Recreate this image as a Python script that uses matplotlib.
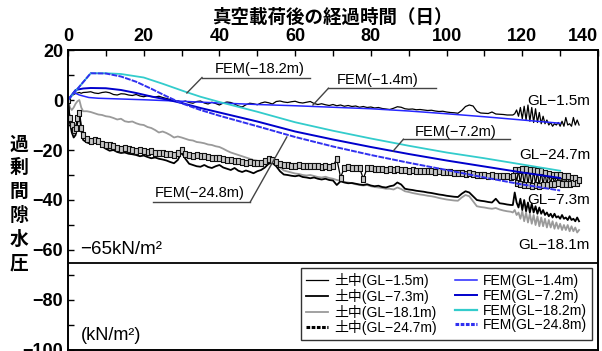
import matplotlib

matplotlib.use("Agg")
import matplotlib.pyplot as plt
import numpy as np
from matplotlib.lines import Line2D

plt.rcParams["font.family"] = ["Liberation Sans", "Noto Sans CJK JP"]
plt.rcParams["axes.unicode_minus"] = True

# ---- measured excess pore pressure (kN/m2) ---------------------------------
# day grid: fine start, daily middle, half-daily tail
days_obs = np.concatenate([
    [0, 0.5, 1, 1.5, 2, 2.5, 3, 3.5, 4],
    np.arange(5, 118),
    np.arange(117.5, 135.25, 0.5),
])

gl_1_5 = [
    0.0, 1.0, 1.8, 2.2, 2.6, 2.8, 3.0, 2.7, 3.0,
    3.1, 3.3, 2.8, 2.6, 3.0, 3.2, 2.9, 2.2, 2.0, 2.5,
    2.4, 2.0, 1.8, 2.2, 1.6, 1.3, 1.7, 1.4, 1.2, 1.5,
    1.0, 0.6, 0.2, -0.5, -0.3, -0.8, -0.4, -1.0, -1.3, -0.6,
    -0.4, -1.2, -1.6, -0.9, -1.4, -2.0, -1.2, -0.8, -1.0, -1.6,
    -2.4, -2.8, -1.9, -1.3, -1.5, -1.9, -1.2, -0.8, -1.1, -1.6,
    -0.6, -0.4, -0.8, -1.0, -0.7, -0.5, -1.0, -1.2, -0.9, -0.6,
    -1.4, -1.8, -1.5, -1.9, -2.2, -1.8, -2.3, -2.0, -2.5, -2.2,
    -2.6, -2.4, -2.9, -2.6, -3.0, -2.8, -3.2, -3.0, -3.4, -3.6,
    -3.8, -3.3, -2.7, -2.9, -3.5, -3.7, -3.6, -3.9, -3.8, -4.0,
    -4.2, -4.1, -4.4, -4.6, -4.5, -4.8, -5.0, -5.1, -5.3, -4.2,
    -2.6, -2.0, -2.4, -4.5, -5.2, -5.3, -5.4, -4.8, -5.6, -5.7,
    -5.8, -6.0, -6.0,
    -6.0, -5.5, -4.0, -6.5, -3.0, -7.5, -2.5, -8.0, -2.0, -8.5,
    -3.0, -9.0, -3.5, -9.0, -5.0, -9.5, -6.5, -9.5, -8.0, -10.0,
    -9.0, -10.5, -9.5, -10.0, -9.0, -10.5, -8.5, -10.5, -7.0, -10.0,
    -9.5, -10.5, -7.0, -10.0, -8.0, -10.0,
]

gl_7_3 = [
    0.0, -9.0, -13.0, -15.0, -14.0, -9.0, -4.5, -12.0, -16.0,
    -17.0, -17.5, -16.5, -16.0, -18.5, -19.5, -20.3, -20.0, -20.8, -21.2,
    -21.0, -21.5, -21.7, -22.0, -22.5, -22.2, -22.8, -23.3, -23.0, -23.5,
    -23.8, -24.2, -24.8, -25.3, -24.0, -21.0, -23.5, -25.5, -26.0, -26.5,
    -26.7, -26.0, -26.8, -27.2, -26.5, -26.0, -27.0, -27.5, -28.0, -27.2,
    -28.3, -28.8, -28.2, -28.7, -29.3, -28.5, -28.0, -27.0, -25.5, -25.2,
    -26.5, -28.5, -29.8, -30.0, -30.3, -30.5, -30.2, -30.8, -31.0, -31.3,
    -31.0, -31.5, -31.8, -31.5, -32.0, -32.2, -34.0, -32.5, -33.0, -33.3,
    -33.2, -33.5, -33.8, -34.0, -33.7, -34.2, -34.5, -34.3, -34.8, -35.0,
    -34.5, -34.2, -33.0, -33.8, -35.5, -35.8, -36.0, -36.3, -36.5, -36.7,
    -37.0, -37.2, -37.5, -37.8, -38.0, -38.3, -38.5, -38.7, -38.8, -37.5,
    -36.5, -37.0, -38.5, -40.0, -40.3, -40.5, -40.8, -41.0, -39.5, -41.3,
    -41.5, -41.8, -42.0,
    -42.0, -37.0, -41.0, -43.0, -39.5, -44.0, -40.0, -44.5, -41.0, -45.0,
    -41.5, -45.0, -42.5, -45.5, -43.0, -45.5, -44.0, -46.0, -45.0, -46.5,
    -45.5, -47.0, -45.5, -47.0, -46.5, -47.5, -46.0, -47.5, -47.0, -48.0,
    -46.5, -48.0, -47.5, -48.5, -47.0, -48.5,
]

gl_18_1 = [
    0.0, -3.0, -4.0, -3.0, -1.5, -0.5, 0.0, -3.0, -4.5,
    -4.5, -4.8, -5.3, -5.8, -6.0, -6.5, -6.7, -7.2, -7.8, -7.5,
    -8.5, -8.8, -8.6, -9.3, -9.8, -10.0, -10.8, -11.2, -12.0, -13.0,
    -12.6, -13.2, -14.0, -15.0, -14.6, -15.0, -15.5, -16.0, -16.2, -16.8,
    -17.0, -17.3, -17.8, -18.0, -18.5, -18.8, -19.5, -20.3, -21.0, -21.5,
    -22.0, -22.5, -23.0, -23.5, -24.0, -24.3, -24.8, -25.0, -24.2, -23.6,
    -25.0, -27.0, -28.2, -28.6, -29.0, -29.4, -29.6, -30.0, -30.2, -30.0,
    -30.4, -30.8, -31.0, -30.7, -31.2, -31.5, -32.0, -32.3, -32.8, -33.0,
    -33.3, -33.7, -34.0, -34.2, -34.0, -34.5, -34.8, -35.0, -35.2, -35.5,
    -35.5, -35.8, -35.0, -35.6, -36.5, -36.8, -37.2, -37.5, -37.8, -38.0,
    -38.3, -38.5, -38.8, -39.2, -39.5, -39.8, -40.0, -40.2, -40.3, -39.0,
    -38.0, -38.5, -40.5, -42.5, -42.8, -43.0, -43.3, -43.5, -43.2, -43.8,
    -44.2, -44.5, -44.7,
    -45.0, -44.0, -46.0, -45.0, -47.5, -44.5, -48.5, -45.0, -49.0, -45.5,
    -49.5, -46.0, -50.0, -46.5, -50.5, -47.0, -50.5, -47.5, -51.0, -48.0,
    -51.0, -48.5, -51.5, -49.0, -51.5, -49.5, -52.0, -50.0, -52.0, -50.0,
    -52.5, -50.5, -52.5, -51.0, -53.0, -52.0,
]

gl_24_7 = [
    0.0, -7.0, -10.0, -12.0, -11.0, -7.0, -5.0, -11.0, -14.0,
    -15.5, -16.5, -16.0, -16.5, -17.5, -17.8, -18.0, -18.3, -19.0, -19.5,
    -19.2, -19.5, -20.0, -20.3, -20.0, -20.5, -20.8, -20.5, -21.0, -21.3,
    -21.2, -21.6, -21.5, -22.0, -21.0, -20.0, -21.5, -22.0, -22.2, -22.0,
    -22.3, -22.5, -22.8, -23.0, -23.2, -23.0, -23.5, -23.8, -24.0, -24.2,
    -24.5, -24.7, -25.0, -24.8, -25.0, -25.2, -25.0, -24.5, -23.5, -24.0,
    -24.8, -25.5, -25.8, -26.0, -26.2, -26.3, -26.0, -26.5, -26.2, -26.4,
    -26.5, -26.3, -26.6, -26.5, -26.8, -26.5, -23.5, -31.0, -27.0, -26.8,
    -27.0, -27.2, -27.0, -31.5, -27.3, -27.2, -27.5, -27.4, -27.6, -27.8,
    -27.5, -27.8, -27.6, -28.0, -28.0, -28.2, -28.0, -28.3, -28.2, -28.4,
    -28.5, -28.3, -28.6, -28.5, -28.8, -28.7, -28.9, -29.0, -29.0, -29.2,
    -29.5, -29.3, -29.6, -29.8, -30.0, -29.8, -30.2, -30.0, -30.3, -30.2,
    -30.5, -30.3, -30.6,
    -30.5, -28.0, -33.0, -28.0, -33.5, -27.5, -34.0, -27.5, -34.0, -28.0,
    -34.5, -28.0, -34.0, -28.5, -34.5, -28.5, -34.0, -29.0, -34.0, -29.5,
    -33.5, -30.0, -33.5, -30.0, -33.0, -30.0, -33.5, -30.5, -33.5, -30.5,
    -33.5, -31.0, -33.0, -31.0, -33.0, -32.0,
]

# ---- FEM results (kN/m2) ---------------------------------------------------
fem_1_4_days = [0, 1.5, 3, 5.5, 8, 12, 20, 30, 40, 50, 60, 70, 80, 90, 100, 110, 120, 130]
fem_1_4 = [0, 3.0, 2.0, 1.0, 0.7, 0.5, 0.1, -0.5, -1.2, -1.8, -2.3, -2.9, -3.5, -4.4, -5.5, -6.7, -8.0, -9.3]

fem_7_2_days = [0, 2, 4, 6, 10, 14, 18, 22, 26, 30, 35, 40, 50, 60, 70, 80, 90, 100, 110, 120, 130]
fem_7_2 = [0, 4.0, 4.6, 4.8, 4.7, 4.0, 2.8, 1.4, 0.2, -1.2, -3.2, -5.0, -8.6, -12.6, -15.8, -18.8,
           -21.6, -24.2, -26.6, -29.0, -31.2]

fem_18_2_days = [0, 6, 10, 14, 20, 25, 31, 35, 40, 50, 60, 70, 80, 90, 100, 110, 120, 130]
fem_18_2 = [0, 10.7, 10.7, 10.4, 9.0, 6.5, 3.3, 1.3, -0.8, -4.7, -8.9, -12.3, -15.4, -18.3, -21.0,
            -23.3, -25.8, -28.3]

fem_24_8_days = [0, 6, 10, 14, 18, 22, 26, 30, 35, 40, 50, 60, 70, 80, 90, 100, 110, 120, 130]
fem_24_8 = [0, 10.7, 10.6, 9.4, 7.3, 4.5, 1.5, -1.3, -4.0, -6.3, -10.5, -14.8, -18.6, -22.0, -25.1,
            -28.0, -31.0, -33.8, -36.2]

design_load = -65
ylabel_chars = list("過剰間隙水圧")

BLUE_LIGHT = "#2626ff"
BLUE_DARK = "#0000cc"
BLUE_DASH = "#3030f0"
CYAN = "#33cccc"
GRAY = "#9a9a9a"
LEADER = "#444444"

fig = plt.figure(figsize=(6.02, 3.51), dpi=100)
ax = fig.add_axes([68 / 602, 1 / 351, 530 / 602, 300 / 351])

# measured
ax.plot(days_obs, gl_1_5, color="black", lw=0.9)
ax.plot(days_obs, gl_18_1, color=GRAY, lw=1.3)
ax.plot(days_obs, gl_7_3, color="black", lw=1.3)
box = [(-0.45, -1), (0.45, -1), (0.45, 1), (-0.45, 1), (-0.45, -1)]
ax.plot(days_obs, gl_24_7, color="black", lw=0.9, marker=box, markersize=5,
        markerfacecolor="#c8c8c8", markeredgecolor="#111111", markeredgewidth=0.8)

# FEM
ax.plot(fem_1_4_days, fem_1_4, color=BLUE_LIGHT, lw=1.1)
ax.plot(fem_7_2_days, fem_7_2, color=BLUE_DARK, lw=1.4)
ax.plot(fem_18_2_days, fem_18_2, color=CYAN, lw=1.3)
ax.plot(fem_24_8_days, fem_24_8, color=BLUE_DASH, lw=1.4, linestyle=(0, (3, 0.6)))

ax.axhline(design_load, color="black", lw=1.3)

# leader-line labels for the FEM curves
leaders = [
    ("FEM(\u221218.2m)", (38.8, 12.4), (35.4, 63.9, 9.0), (31.4, 2.8)),
    ("FEM(\u22121.4m)", (71.1, 8.0), (68.8, 97.2, 4.7), (64.7, -2.0)),
    ("FEM(\u22127.2m)", (91.7, -12.7), (88.6, 116.7, -15.7), (85.9, -20.4)),
]
for text, (tx, ty), (ux0, ux1, uy), (px, py) in leaders:
    ax.text(tx, ty, text, ha="left", va="center", fontsize=10.5)
    ax.plot([ux0, ux1], [uy, uy], color=LEADER, lw=1.0)
    ax.plot([ux0, px], [uy, py], color=LEADER, lw=1.0)

ax.text(23.0, -37.3, "FEM(\u221224.8m)", ha="left", va="center", fontsize=10.5)
ax.plot([22.4, 48.1], [-40.9, -40.9], color=LEADER, lw=1.0)
ax.plot([48.1, 57.8], [-40.9, -14.8], color=LEADER, lw=1.0)

for text, y in [("GL\u22121.5m", -0.3), ("GL\u221224.7m", -22.0),
                ("GL\u22127.3m", -40.0), ("GL\u221218.1m", -58.0)]:
    ax.text(137.9, y, text, ha="right", va="center", fontsize=11)

ax.text(3.2, -60, "\u221265kN/m\u00b2", ha="left", va="center", fontsize=13.5)
ax.text(3.4, -94, "(kN/m\u00b2)", ha="left", va="center", fontsize=13)

# axes
ax.set_xlim(0, 140)
ax.set_ylim(-100, 20)
ax.xaxis.tick_top()
ax.set_xticks(np.arange(0, 141, 20))
ax.set_xticks(np.arange(10, 140, 20), minor=True)
ax.set_yticks(np.arange(-100, 21, 20))
ax.set_yticks(np.arange(-90, 20, 20), minor=True)
ax.tick_params(which="both", direction="in", length=4, width=1.0,
               top=True, bottom=False, left=True, right=False)
ax.tick_params(axis="both", labelsize=13, pad=3.5)
for lbl in ax.get_xticklabels() + ax.get_yticklabels():
    lbl.set_fontweight("bold")
ax.get_xticklabels()[-1].set_horizontalalignment("right")
for sp in ax.spines.values():
    sp.set_linewidth(1.4)

# legend
handles = [
    Line2D([], [], color="black", lw=0.9),
    Line2D([], [], color="black", lw=1.3),
    Line2D([], [], color=GRAY, lw=1.3),
    Line2D([], [], color="black", lw=2.2, linestyle=(0, (1.2, 0.5))),
    Line2D([], [], color=BLUE_LIGHT, lw=1.1),
    Line2D([], [], color=BLUE_DARK, lw=1.4),
    Line2D([], [], color=CYAN, lw=1.6),
    Line2D([], [], color=BLUE_DASH, lw=2.2, linestyle=(0, (1.2, 0.5))),
]
labels = ["土中(GL\u22121.5m)", "土中(GL\u22127.3m)", "土中(GL\u221218.1m)", "土中(GL\u221224.7m)",
          "FEM(GL\u22121.4m)", "FEM(GL\u22127.2m)", "FEM(GL\u221218.2m)", "FEM(GL\u221224.8m)"]
leg = ax.legend(handles, labels, ncol=2, loc="lower right", bbox_to_anchor=(0.989, 0.033),
                fontsize=10, frameon=True, fancybox=False, edgecolor="black",
                handlelength=1.6, handletextpad=0.45, columnspacing=1.3,
                labelspacing=0.05, borderpad=0.35, borderaxespad=0)
leg.get_frame().set_linewidth(1.0)

fig.text(0.552, 1 - 17.5 / 351, "真空載荷後の経過時間（日）", ha="center", va="center",
         fontsize=13.3, fontweight="bold", family=["Noto Sans CJK JP"])

for i, ch in enumerate(ylabel_chars):
    fig.text(19 / 602, 1 - (144 + i * 23.8) / 351, ch, ha="center", va="center",
             fontsize=13.5, fontweight="bold", family=["Noto Sans CJK JP"])

fig.savefig("out.png", dpi=100)
